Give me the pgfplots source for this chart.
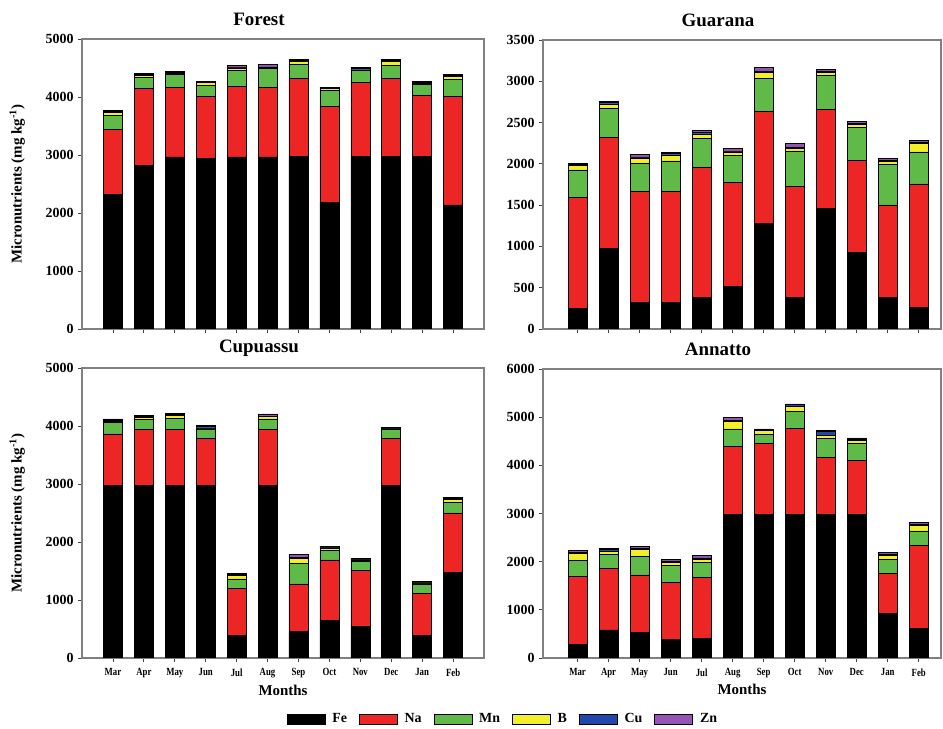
\documentclass[border=0pt]{standalone}
\usepackage{fontspec}
\setmainfont{Liberation Serif}
\newfontfamily\condfont[FakeStretch=0.8]{Liberation Serif}
\usepackage{pgfplots}
\usepackage{pgfplotstable}
\pgfplotsset{compat=1.18}

\definecolor{cFe}{RGB}{0,0,0}
\definecolor{cNa}{RGB}{236,38,36}
\definecolor{cMn}{RGB}{96,186,72}
\definecolor{cB}{RGB}{242,238,40}
\definecolor{cCu}{RGB}{32,72,170}
\definecolor{cZn}{RGB}{150,82,180}
\definecolor{frameg}{RGB}{128,128,128}

\pgfplotstableread{
x Fe Na Mn B Cu Zn
0 2325 1122 230 57 20 20
1 2819 1335 184 41 12 12
2 2969 1197 230 15 15 15
3 2946 1059 201 46 9 8
4 2969 1208 276 47 20 20
5 2969 1197 322 20 10 40
6 2975 1352 241 46 15 14
7 2186 1646 288 28 12 11
8 2975 1271 207 15 20 20
9 2975 1352 213 74 15 14
10 2975 1053 184 28 15 14
11 2140 1865 293 58 20 20
}\forest

\pgfplotstableread{
x Fe Na Mn B Cu Zn
0 254 1343 330 53 12 12
1 976 1347 346 57 16 16
2 319 1346 343 65 10 30
3 319 1346 371 73 16 16
4 387 1573 346 57 20 20
5 512 1266 327 40 10 30
6 1282 1351 403 73 16 40
7 387 1339 431 33 16 40
8 1464 1197 408 36 20 20
9 927 1117 400 36 16 16
10 379 1125 492 32 10 31
11 262 1496 387 105 16 16
}\guarana

\pgfplotstableread{
x Fe Na Mn B Cu Zn
0 2974 889 201 20 19 19
1 2974 964 172 40 15 14
2 2974 964 195 52 17 17
3 2974 815 160 20 19 19
4 385 815 166 58 20 20
5 2974 964 184 40 10 36
6 459 821 356 86 10 59
7 654 1039 161 46 15 14
8 545 965 160 20 16 16
9 2974 815 160 9 10 10
10 385 734 161 15 10 10
11 1470 1033 184 51 18 17
}\cupuassu

\pgfplotstableread{
x Fe Na Mn B Cu Zn
0 290 1400 344 138 28 28
1 586 1276 290 69 30 25
2 531 1193 393 138 25 44
3 379 1193 345 76 25 30
4 407 1262 310 76 25 44
5 2979 1414 366 151 20 70
6 2979 1483 179 83 20 15
7 2979 1793 345 104 40 15
8 2979 1180 393 69 85 14
9 2979 1124 359 55 30 25
10 931 828 289 90 25 30
11 621 1724 296 118 25 30
}\annatto

\pgfplotsset{
  panel/.style={
    scale only axis,
    ybar stacked,
    bar width=19bp,
    ymin=0,
    xtick={0,...,11},
    xtick pos=bottom, ytick pos=left,
    tick align=outside,
    major tick length=4bp,
    axis line style={frameg, line width=1.2bp},
    tick style={black!75, line width=0.8bp},
    /pgf/number format/assume math mode=true,
    /pgf/number format/set thousands separator={},
    yticklabel style={font=\bfseries\fontsize{14}{14}\selectfont, xshift=-1bp},
    xticklabel style={font=\condfont\bfseries\fontsize{11}{11}\selectfont, yshift=-3bp},
    title style={font=\bfseries\fontsize{19}{19}\selectfont, at={(axis description cs:0.5,1)}, anchor=center, xshift=-24bp, yshift=14bp},
    ylabel style={font=\bfseries\fontsize{15}{15}\selectfont, at={(axis description cs:-0.161,0.5)}, anchor=center},
    xlabel style={font=\bfseries\fontsize{15}{15}\selectfont, at={(axis description cs:0.5,-0.11)}, anchor=center},
    every axis plot/.append style={draw=black, line width=0.5bp,
      legend image code/.code={\draw[##1, line width=0.6bp] (0bp,-5bp) rectangle (38bp,5bp);}},
  },
  leftp/.style={panel, xmin=-1, xmax=12, width=402bp,
    ylabel={Micronutrients (mg kg\textsuperscript{-1})}},
  rightp/.style={panel, xmin=-1.113, xmax=11.716, width=398bp},
}

\newcommand{\stack}[1]{%
  \addplot[fill=cFe] table[x=x,y=Fe]{#1};
  \addplot[fill=cNa] table[x=x,y=Na]{#1};
  \addplot[fill=cMn] table[x=x,y=Mn]{#1};
  \addplot[fill=cB] table[x=x,y=B]{#1};
  \addplot[fill=cCu] table[x=x,y=Cu]{#1};
  \addplot[fill=cZn] table[x=x,y=Zn]{#1};
}

\begin{document}
\begin{tikzpicture}

\begin{axis}[leftp, at={(82bp,397bp)}, anchor=south west, height=290bp,
  ymax=5000, ytick={0,1000,...,5000}, xticklabels={}, title={Forest}]
\stack{\forest}
\end{axis}

\begin{axis}[rightp, at={(543bp,397bp)}, anchor=south west, height=289bp,
  ymax=3500, ytick={0,500,...,3500}, xticklabels={}, title={Guarana}]
\stack{\guarana}
\end{axis}

\begin{axis}[leftp, at={(82bp,68bp)}, anchor=south west, height=290bp,
  ymax=5000, ytick={0,1000,...,5000},
  xticklabels={Mar,Apr,May,Jun,Jul,Aug,Sep,Oct,Nov,Dec,Jan,Feb},
  title={Cupuassu}, xlabel={Months},
  legend columns=6,
  legend style={draw=none, fill=none, at={(axis description cs:1.047,-0.21)}, anchor=center,
    font=\bfseries\fontsize{14}{14}\selectfont,
    /tikz/every even column/.append style={column sep=10bp},
    /tikz/every odd column/.append style={column sep=5bp}},
  ]
\stack{\cupuassu}
\legend{Fe,Na,Mn,B,Cu,Zn}
\end{axis}

\begin{axis}[rightp, at={(543bp,68bp)}, anchor=south west, height=289bp,
  ymax=6000, ytick={0,1000,...,6000},
  xticklabels={Mar,Apr,May,Jun,Jul,Aug,Sep,Oct,Nov,Dec,Jan,Feb},
  title={Annatto}, xlabel={Months}]
\stack{\annatto}
\end{axis}
\path (0bp,0bp) rectangle (943bp,726bp);
\end{tikzpicture}
\end{document}
